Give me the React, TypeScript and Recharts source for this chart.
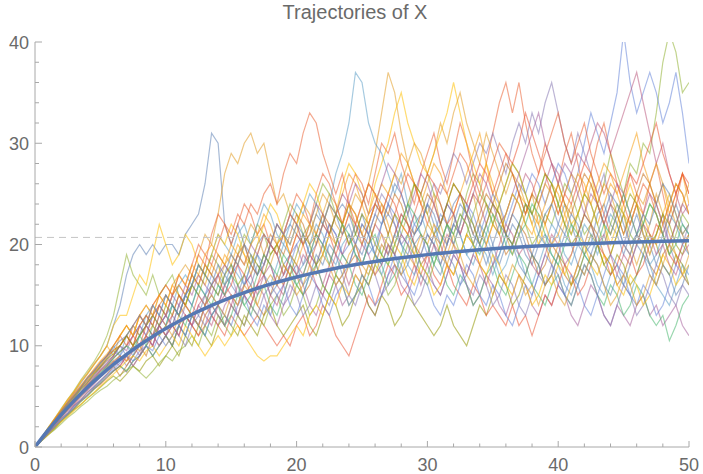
import React from "react";
import {
  LineChart,
  Line,
  XAxis,
  YAxis,
  ReferenceLine,
} from "recharts";

// sample times shared by every trajectory
const times = [
  0, 0.5, 1, 1.5, 2, 2.5, 3, 3.5, 4, 4.5,
  5, 5.5, 6, 6.5, 7, 7.5, 8, 8.5, 9, 9.5,
  10, 10.5, 11, 11.5, 12, 12.5, 13, 13.5, 14, 14.5,
  15, 15.5, 16, 16.5, 17, 17.5, 18, 18.5, 19, 19.5,
  20, 20.5, 21, 21.5, 22, 22.5, 23, 23.5, 24, 24.5,
  25, 25.5, 26, 26.5, 27, 27.5, 28, 28.5, 29, 29.5,
  30, 30.5, 31, 31.5, 32, 32.5, 33, 33.5, 34, 34.5,
  35, 35.5, 36, 36.5, 37, 37.5, 38, 38.5, 39, 39.5,
  40, 40.5, 41, 41.5, 42, 42.5, 43, 43.5, 44, 44.5,
  45, 45.5, 46, 46.5, 47, 47.5, 48, 48.5, 49, 49.5,
  50,
];

const traj01 = [
  0, 0.9, 1.8, 2.7, 3.6, 4.5, 5.4, 6.3, 7.2, 8.1,
  9, 10, 12, 14, 17, 19, 20, 19, 20, 19,
  20, 20, 19, 21, 22, 23, 26, 31, 30, 22,
  20, 22, 20, 18, 20, 21, 20, 19, 21, 22,
  21, 20, 21, 23, 22, 21, 23, 24, 23, 21,
  23, 21, 19, 22, 23, 22, 20, 19, 21, 22,
  24, 22, 20, 22, 24, 25, 24, 22, 20, 22,
  20, 18, 20, 22, 21, 19, 18, 20, 21, 20,
  22, 24, 22, 20, 19, 20, 23, 24, 22, 21,
  19, 21, 23, 21, 20, 18, 20, 22, 24, 22,
  21,
];
const traj02 = [
  0, 0.9, 1.8, 2.7, 3.5, 4.4, 5.1, 5.9, 6.8, 7.4,
  8.3, 9, 10, 11, 12, 11, 13, 14, 13, 15,
  16, 15, 17, 18, 17, 19, 21, 20, 23, 27,
  29, 28, 30, 31, 29, 30, 27, 24, 25, 23,
  22, 24, 23, 21, 23, 25, 24, 22, 20, 22,
  24, 26, 29, 33, 37, 35, 31, 28, 26, 24,
  23, 25, 22, 20, 23, 21, 23, 25, 22, 20,
  22, 24, 21, 19, 21, 23, 25, 22, 20, 18,
  20, 22, 24, 21, 23, 26, 24, 22, 19, 21,
  23, 20, 18, 20, 22, 25, 23, 21, 19, 17,
  19,
];
const traj03 = [
  0, 0.9, 1.9, 2.8, 3.8, 4.7, 5.6, 6.6, 7.5, 8.4,
  9.5, 11, 13, 16, 19, 17, 16, 15, 17, 15,
  16, 17, 15, 14, 16, 18, 17, 19, 18, 16,
  17, 19, 21, 20, 22, 21, 19, 20, 22, 24,
  23, 21, 22, 24, 26, 25, 23, 22, 24, 21,
  20, 22, 24, 23, 21, 19, 21, 23, 26, 25,
  27, 25, 24, 22, 20, 22, 25, 27, 26, 24,
  22, 21, 23, 25, 24, 22, 20, 21, 23, 22,
  24, 26, 25, 23, 21, 22, 24, 26, 29, 27,
  25, 28, 27, 30, 29, 33, 38, 41, 39, 35,
  36,
];
const traj04 = [
  0, 0.8, 1.6, 2.5, 3.1, 3.9, 4.8, 5.4, 6.3, 7.0,
  7.8, 8.5, 9, 10, 11, 10, 12, 13, 12, 14,
  13, 15, 16, 15, 17, 19, 18, 21, 23, 22,
  20, 22, 24, 23, 21, 22, 20, 19, 21, 23,
  25, 24, 22, 25, 27, 26, 24, 22, 25, 27,
  26, 24, 27, 30, 29, 31, 28, 26, 24, 27,
  29, 31, 28, 26, 29, 32, 30, 27, 25, 28,
  31, 34, 36, 33, 36, 32, 29, 27, 30, 28,
  26, 29, 31, 28, 25, 27, 30, 32, 29, 26,
  24, 27, 25, 23, 26, 28, 25, 22, 24, 27,
  25,
];
const traj05 = [
  0, 0.7, 1.5, 2.2, 3.0, 3.6, 4.3, 5.1, 5.6, 6.4,
  7.1, 7.6, 8.4, 9, 8, 9, 10, 11, 10, 12,
  11, 13, 12, 14, 13, 12, 14, 15, 14, 16,
  17, 15, 16, 18, 17, 19, 18, 16, 17, 19,
  20, 18, 19, 21, 20, 22, 21, 19, 18, 20,
  22, 21, 23, 25, 24, 22, 20, 21, 23, 22,
  24, 26, 25, 27, 29, 28, 26, 28, 30, 29,
  31, 29, 27, 30, 32, 30, 33, 31, 34, 36,
  33, 30, 28, 31, 29, 27, 25, 27, 24, 22,
  20, 22, 24, 21, 19, 21, 23, 20, 18, 20,
  22,
];
const traj06 = [
  0, 0.7, 1.4, 2.0, 2.8, 3.3, 4.1, 4.6, 5.4, 5.9,
  6.5, 7.2, 8, 7, 8, 9, 10, 9, 11, 12,
  11, 10, 12, 13, 12, 11, 13, 14, 13, 12,
  14, 13, 15, 16, 14, 13, 15, 17, 16, 18,
  17, 15, 16, 18, 20, 19, 17, 16, 18, 19,
  17, 16, 18, 20, 19, 21, 23, 22, 20, 18,
  19, 21, 20, 18, 17, 19, 21, 20, 22, 24,
  23, 21, 19, 20, 22, 21, 19, 17, 18, 20,
  19, 17, 16, 18, 20, 22, 21, 19, 18, 16,
  17, 19, 21, 20, 18, 17, 19, 20, 22, 21,
  19,
];
const traj07 = [
  0, 0.9, 1.7, 2.6, 3.4, 4.3, 5.0, 5.8, 6.7, 7.5,
  8.2, 9, 10, 9, 11, 12, 11, 13, 14, 13,
  15, 14, 16, 17, 16, 18, 17, 19, 21, 20,
  19, 21, 22, 20, 22, 24, 23, 21, 20, 22,
  24, 23, 25, 24, 22, 24, 27, 29, 32, 37,
  36, 32, 30, 29, 27, 25, 27, 24, 22, 23,
  21, 20, 22, 24, 23, 21, 19, 20, 22, 21,
  19, 17, 18, 20, 19, 17, 16, 18, 20, 19,
  18, 16, 15, 17, 19, 18, 16, 15, 17, 18,
  16, 15, 17, 19, 18, 16, 15, 14, 16, 18,
  17,
];
const traj08 = [
  0, 0.9, 1.9, 2.8, 3.7, 4.6, 5.5, 6.4, 7.2, 8.1,
  9, 10, 12, 13, 13, 15, 17, 16, 19, 22,
  20, 18, 19, 21, 20, 18, 17, 19, 21, 20,
  22, 21, 19, 18, 20, 22, 24, 23, 21, 20,
  22, 24, 26, 25, 23, 21, 23, 26, 28, 27,
  25, 23, 26, 28, 30, 33, 35, 32, 30, 28,
  27, 29, 31, 33, 36, 33, 30, 28, 26, 28,
  25, 23, 21, 23, 25, 24, 22, 20, 22, 24,
  26, 24, 22, 23, 25, 27, 24, 22, 20, 22,
  24, 26, 24, 21, 19, 21, 23, 25, 23, 21,
  22,
];
const traj09 = [
  0, 0.6, 1.3, 2.0, 2.6, 3.3, 3.9, 4.6, 5.1, 5.8,
  6.3, 7, 7.5, 8, 7.4, 8.5, 9, 10, 9, 10,
  11, 10, 12, 11, 13, 12, 14, 13, 12, 14,
  15, 13, 12, 14, 16, 15, 13, 12, 14, 15,
  17, 16, 14, 13, 15, 17, 16, 14, 15, 17,
  16, 14, 13, 15, 17, 18, 16, 15, 17, 19,
  18, 16, 15, 17, 19, 18, 16, 14, 15, 17,
  16, 14, 13, 15, 17, 16, 14, 13, 15, 14,
  16, 15, 13, 12, 14, 16, 15, 13, 12, 14,
  13, 12, 14, 15, 13, 14, 12, 13, 14, 12,
  11,
];
const traj10 = [
  0, 0.6, 1.2, 1.8, 2.5, 3.1, 3.7, 4.2, 4.8, 5.3,
  5.9, 6.5, 7, 6.5, 7.2, 8, 7.5, 8.5, 9, 8,
  9, 10, 9, 11, 10, 12, 11, 10, 12, 13,
  12, 11, 13, 12, 11, 13, 14, 12, 11, 12,
  13, 14, 12, 11, 13, 15, 14, 12, 13, 15,
  16, 14, 13, 15, 14, 12, 13, 15, 14, 13,
  12, 11, 12, 14, 12, 11, 10, 12, 14, 13,
  15, 17, 16, 14, 15, 17, 19, 18, 16, 17,
  19, 18, 16, 17, 19, 21, 20, 18, 17, 19,
  18, 16, 17, 19, 21, 20, 18, 17, 19, 18,
  16,
];
const traj11 = [
  0, 0.7, 1.3, 1.9, 2.6, 3.2, 3.8, 4.5, 5.1, 5.7,
  6.2, 6.8, 7.5, 8, 9, 8, 9, 10, 11, 10,
  11, 12, 11, 13, 12, 11, 12, 13, 12, 11,
  13, 12, 11, 12, 13, 12, 11, 10, 11, 10,
  12, 13, 11, 12, 14, 13, 11, 10, 9, 11,
  13, 15, 14, 16, 18, 17, 15, 16, 18, 17,
  19, 17, 16, 18, 16, 15, 14, 16, 15, 13,
  14, 13, 12, 14, 12, 13, 11, 13, 15, 14,
  16, 18, 17, 15, 16, 18, 20, 19, 17, 18,
  20, 19, 17, 18, 20, 22, 21, 19, 18, 20,
  21,
];
const traj12 = [
  0, 0.8, 1.7, 2.5, 3.3, 4.0, 4.9, 5.6, 6.4, 7.1,
  7.9, 8.6, 9.5, 9, 10, 11, 12, 11, 13, 12,
  13, 14, 13, 15, 14, 16, 15, 17, 16, 15,
  17, 18, 16, 17, 19, 18, 20, 19, 17, 18,
  20, 21, 19, 18, 20, 22, 21, 19, 20, 22,
  21, 19, 20, 22, 24, 23, 21, 20, 22, 21,
  19, 21, 23, 22, 20, 22, 24, 23, 21, 23,
  25, 24, 22, 24, 26, 25, 27, 26, 24, 26,
  28, 27, 25, 27, 30, 33, 31, 29, 32, 35,
  41, 36, 33, 35, 37, 35, 32, 34, 37, 33,
  28,
];
const traj13 = [
  0, 0.9, 1.9, 2.8, 3.7, 4.7, 5.5, 6.5, 7.3, 8.2,
  9, 10, 9, 11, 12, 11, 13, 12, 14, 15,
  14, 16, 15, 14, 16, 17, 16, 18, 17, 19,
  18, 20, 19, 17, 19, 21, 20, 22, 21, 19,
  21, 23, 22, 20, 22, 24, 23, 25, 27, 26,
  24, 22, 24, 26, 25, 27, 29, 28, 26, 24,
  26, 28, 27, 25, 23, 25, 27, 29, 31, 28,
  26, 24, 26, 28, 27, 25, 23, 22, 24, 26,
  25, 23, 21, 23, 25, 24, 22, 24, 26, 25,
  27, 29, 31, 28, 26, 24, 26, 23, 25, 27,
  24,
];
const traj14 = [
  0, 0.7, 1.5, 2.3, 3.0, 3.8, 4.4, 5.2, 5.8, 6.6,
  7.2, 7.9, 8.5, 8, 9, 10, 9, 11, 10, 12,
  11, 12, 14, 13, 12, 14, 15, 13, 14, 16,
  15, 14, 16, 17, 15, 17, 18, 16, 15, 17,
  18, 17, 19, 18, 16, 18, 20, 19, 21, 20,
  18, 20, 22, 21, 19, 21, 23, 22, 20, 19,
  21, 20, 18, 20, 22, 21, 23, 25, 24, 22,
  24, 23, 21, 23, 25, 27, 26, 24, 26, 28,
  27, 25, 27, 29, 28, 30, 32, 31, 29, 31,
  33, 35, 37, 34, 31, 28, 30, 27, 25, 23,
  24,
];
const traj15 = [
  0, 0.6, 1.3, 1.9, 2.6, 3.2, 3.8, 4.5, 5.0, 5.7,
  6.3, 6.9, 7.5, 8, 7.5, 8.5, 9, 10, 9, 10,
  11, 10, 12, 11, 13, 12, 11, 13, 14, 12,
  13, 15, 14, 13, 15, 16, 14, 13, 15, 17,
  16, 15, 17, 18, 16, 15, 17, 19, 18, 16,
  15, 17, 19, 18, 16, 17, 19, 21, 20, 18,
  17, 19, 18, 16, 15, 17, 16, 14, 15, 17,
  18, 16, 15, 17, 19, 18, 16, 15, 14, 16,
  17, 15, 14, 16, 18, 17, 15, 14, 16, 15,
  13, 14, 16, 15, 13, 12, 13, 10.5, 12, 14,
  15,
];
const traj16 = [
  0, 0.8, 1.6, 2.4, 3.2, 3.9, 4.7, 5.4, 6.1, 6.8,
  7.6, 8.3, 9, 10, 9, 10, 11, 12, 11, 12,
  13, 12, 14, 15, 14, 13, 15, 16, 15, 17,
  16, 15, 17, 16, 18, 17, 15, 16, 18, 19,
  18, 16, 17, 19, 18, 20, 19, 17, 18, 20,
  22, 21, 19, 18, 20, 19, 17, 18, 20, 21,
  20, 18, 17, 19, 18, 16, 17, 19, 21, 20,
  18, 19, 21, 20, 18, 17, 19, 18, 16, 17,
  19, 21, 20, 18, 17, 19, 18, 16, 15, 17,
  16, 18, 20, 19, 17, 16, 18, 17, 15, 16,
  18,
];
const traj17 = [
  0, 0.9, 1.8, 2.6, 3.5, 4.2, 5.1, 5.9, 6.6, 7.4,
  8.1, 9, 9.5, 10, 11, 12, 11, 12, 13, 14,
  13, 15, 16, 15, 17, 16, 18, 17, 16, 18,
  19, 18, 20, 22, 21, 19, 18, 20, 21, 23,
  22, 20, 21, 23, 25, 24, 22, 21, 23, 25,
  24, 26, 25, 23, 25, 27, 26, 28, 30, 29,
  27, 29, 32, 30, 33, 35, 32, 30, 28, 31,
  29, 27, 25, 27, 26, 24, 22, 24, 26, 25,
  23, 25, 27, 26, 24, 22, 24, 26, 25, 23,
  21, 23, 25, 24, 26, 28, 26, 24, 22, 24,
  26,
];
const traj18 = [
  0, 0.6, 1.2, 1.7, 2.3, 2.9, 3.4, 4.0, 4.5, 5.1,
  5.6, 6.0, 6.6, 7.1, 7.6, 8.0, 7.4, 6.8, 7.5, 8.3,
  9, 8.5, 9.5, 10, 11, 10, 12, 11, 13, 12,
  11, 13, 12, 14, 13, 12, 14, 15, 13, 14,
  16, 15, 13, 14, 16, 15, 17, 16, 14, 15,
  17, 16, 18, 17, 15, 16, 18, 20, 19, 17,
  16, 18, 20, 22, 21, 19, 21, 23, 25, 24,
  22, 24, 26, 28, 27, 25, 23, 25, 27, 26,
  24, 22, 21, 23, 25, 24, 22, 20, 22, 24,
  23, 21, 20, 22, 24, 23, 21, 19, 21, 23,
  22,
];
const traj19 = [
  0, 0.9, 1.8, 2.7, 3.6, 4.4, 5.3, 6.0, 6.9, 7.6,
  8.4, 9, 10, 11, 10, 12, 13, 12, 14, 15,
  16, 15, 17, 16, 18, 20, 19, 18, 20, 22,
  21, 23, 22, 24, 23, 25, 26, 24, 27, 29,
  28, 31, 33, 32, 29, 27, 25, 27, 24, 22,
  24, 26, 25, 23, 21, 23, 25, 27, 26, 24,
  22, 24, 26, 25, 27, 29, 28, 26, 24, 26,
  28, 30, 29, 27, 25, 23, 25, 27, 29, 31,
  33, 30, 28, 30, 32, 29, 27, 25, 27, 26,
  24, 22, 24, 26, 25, 23, 21, 23, 25, 27,
  25,
];
const traj20 = [
  0, 0.7, 1.4, 2.1, 2.8, 3.4, 4.1, 4.7, 5.4, 6.0,
  6.6, 7.2, 7.8, 8.5, 9, 8, 9, 10, 11, 10,
  11, 12, 11, 10, 12, 13, 12, 14, 13, 12,
  14, 13, 15, 14, 13, 15, 16, 15, 14, 16,
  15, 13, 14, 16, 15, 14, 16, 17, 15, 14,
  16, 18, 17, 15, 16, 18, 17, 16, 14, 15,
  17, 16, 15, 17, 19, 18, 16, 15, 17, 16,
  14, 15, 17, 16, 14, 13, 15, 17, 16, 18,
  17, 15, 14, 16, 18, 17, 15, 13, 12, 14,
  16, 15, 13, 14, 16, 18, 17, 15, 14, 16,
  15,
];
const traj21 = [
  0, 0.8, 1.7, 2.5, 3.4, 4.2, 5.0, 5.8, 6.5, 7.3,
  8, 8.8, 9.6, 10, 11, 10, 12, 13, 12, 14,
  15, 14, 13, 15, 17, 16, 18, 17, 19, 18,
  17, 19, 20, 18, 17, 19, 21, 20, 19, 21,
  23, 22, 20, 21, 23, 22, 20, 22, 24, 23,
  21, 20, 22, 24, 23, 25, 24, 22, 21, 23,
  25, 24, 22, 24, 26, 25, 23, 21, 23, 25,
  24, 26, 28, 27, 25, 23, 25, 24, 22, 24,
  26, 24, 23, 25, 27, 26, 24, 22, 24, 23,
  21, 23, 25, 27, 26, 24, 22, 24, 26, 25,
  23,
];
const traj22 = [
  0, 0.8, 1.5, 2.3, 3.1, 3.8, 4.5, 5.3, 6.0, 6.6,
  7.4, 8, 8.7, 9.5, 10, 9, 11, 12, 11, 13,
  12, 14, 13, 15, 16, 15, 14, 16, 17, 16,
  18, 17, 16, 18, 19, 17, 16, 18, 20, 19,
  17, 18, 20, 22, 21, 19, 18, 20, 21, 19,
  18, 20, 19, 17, 19, 21, 20, 18, 17, 19,
  21, 20, 18, 20, 22, 21, 19, 18, 20, 19,
  17, 19, 21, 20, 22, 24, 23, 21, 20, 22,
  21, 19, 18, 20, 22, 21, 19, 21, 23, 22,
  20, 19, 21, 20, 18, 19, 21, 23, 22, 20,
  19,
];
const traj23 = [
  0, 0.6, 1.2, 1.9, 2.5, 3.0, 3.6, 4.2, 4.8, 5.4,
  6.0, 6.6, 7.2, 7.8, 8.5, 9, 8.5, 9.5, 10, 9,
  10, 11, 10, 12, 11, 10, 9, 10, 11, 10,
  11, 12, 11, 10, 9, 8.5, 9, 9, 10, 11,
  12, 11, 13, 14, 13, 15, 14, 16, 15, 17,
  16, 18, 17, 19, 18, 20, 19, 17, 16, 18,
  17, 15, 16, 18, 17, 19, 21, 20, 18, 17,
  19, 18, 16, 15, 17, 16, 14, 15, 17, 16,
  18, 17, 19, 21, 20, 18, 17, 19, 18, 16,
  15, 17, 16, 14, 15, 17, 19, 18, 16, 17,
  18,
];
const traj24 = [
  0, 0.8, 1.6, 2.4, 3.1, 3.9, 4.7, 5.3, 6.1, 6.9,
  7.6, 8.2, 9, 10, 9.5, 11, 12, 11, 13, 14,
  13, 15, 14, 16, 15, 17, 16, 15, 17, 18,
  17, 19, 18, 20, 19, 21, 20, 22, 21, 23,
  22, 20, 22, 24, 23, 21, 23, 25, 24, 26,
  25, 23, 24, 26, 28, 27, 25, 23, 25, 27,
  26, 24, 22, 24, 23, 21, 23, 25, 27, 26,
  24, 22, 23, 25, 27, 29, 31, 33, 30, 28,
  26, 28, 27, 25, 23, 25, 24, 22, 24, 26,
  25, 23, 21, 23, 25, 24, 22, 20, 22, 24,
  23,
];
const traj25 = [
  0, 0.8, 1.7, 2.4, 3.3, 4.1, 4.8, 5.7, 6.3, 7.2,
  7.9, 8.7, 9.2, 10, 11, 10, 11, 12, 13, 12,
  14, 13, 15, 14, 16, 15, 17, 16, 15, 17,
  18, 16, 17, 19, 18, 17, 19, 20, 18, 17,
  19, 21, 20, 18, 19, 21, 23, 22, 20, 21,
  23, 22, 20, 19, 21, 23, 22, 24, 26, 25,
  23, 21, 22, 24, 26, 25, 23, 22, 20, 22,
  24, 23, 21, 20, 22, 24, 23, 25, 27, 26,
  24, 22, 20, 21, 23, 22, 20, 18, 19, 21,
  23, 25, 24, 22, 20, 21, 23, 22, 20, 19,
  21,
];
const traj26 = [
  0, 0.7, 1.6, 2.3, 3.2, 3.8, 4.7, 5.3, 6.1, 6.7,
  7.5, 8.1, 8.8, 9.4, 10, 11, 10, 12, 11, 13,
  12, 13, 15, 14, 13, 15, 14, 16, 17, 15,
  16, 18, 17, 15, 16, 18, 20, 19, 17, 19,
  21, 20, 18, 20, 22, 21, 19, 21, 23, 22,
  20, 22, 24, 23, 25, 24, 22, 21, 23, 25,
  27, 26, 24, 22, 23, 25, 24, 26, 28, 27,
  25, 27, 29, 28, 30, 33, 31, 29, 27, 25,
  23, 25, 24, 26, 28, 27, 25, 23, 21, 23,
  25, 27, 26, 28, 30, 32, 29, 27, 25, 27,
  26,
];
const traj27 = [
  0, 0.6, 1.3, 2.0, 2.7, 3.3, 4.0, 4.6, 5.2, 5.9,
  6.5, 7.1, 7.6, 8.3, 9, 8.5, 9.5, 10, 9.5, 11,
  10, 11, 12, 11, 13, 12, 11, 13, 14, 13,
  12, 14, 15, 13, 12, 14, 13, 15, 16, 14,
  13, 15, 17, 16, 14, 13, 15, 16, 14, 15,
  17, 16, 14, 15, 17, 19, 18, 16, 15, 17,
  16, 14, 13, 15, 14, 16, 18, 17, 15, 14,
  16, 15, 13, 12, 14, 16, 15, 17, 19, 18,
  16, 15, 17, 16, 14, 13, 15, 17, 19, 18,
  17, 15, 14, 16, 15, 13, 14, 16, 18, 17,
  16,
];
const traj28 = [
  0, 0.9, 1.7, 2.6, 3.5, 4.3, 5.2, 6.1, 6.8, 7.7,
  8.5, 9.2, 10, 11, 12, 11, 13, 14, 13, 15,
  14, 16, 17, 16, 18, 17, 19, 20, 19, 18,
  20, 19, 18, 20, 21, 23, 22, 20, 21, 19,
  18, 20, 22, 21, 19, 21, 20, 22, 24, 23,
  21, 23, 25, 24, 22, 20, 22, 21, 19, 21,
  20, 22, 21, 19, 21, 23, 22, 20, 18, 20,
  22, 21, 23, 25, 24, 22, 21, 23, 22, 20,
  21, 23, 25, 27, 26, 24, 26, 28, 27, 25,
  23, 22, 24, 23, 21, 20, 22, 24, 26, 25,
  23,
];
const traj29 = [
  0, 0.7, 1.4, 2.2, 2.9, 3.6, 4.2, 4.9, 5.6, 6.2,
  6.9, 7.5, 8.2, 9, 8.5, 9.5, 10, 11, 10, 12,
  13, 12, 11, 13, 12, 14, 13, 12, 14, 15,
  14, 16, 15, 14, 16, 17, 15, 14, 16, 18,
  17, 19, 18, 16, 15, 17, 19, 18, 16, 18,
  20, 19, 17, 18, 20, 19, 21, 20, 18, 16,
  18, 20, 19, 21, 20, 18, 17, 19, 18, 16,
  18, 20, 22, 21, 19, 20, 18, 17, 19, 21,
  20, 18, 19, 21, 23, 22, 20, 21, 19, 17,
  19, 18, 20, 22, 21, 19, 20, 18, 17, 19,
  20,
];
const traj30 = [
  0, 0.8, 1.5, 2.3, 3.0, 3.8, 4.6, 5.2, 6.0, 6.7,
  7.3, 8, 8.8, 9.4, 10, 9.5, 11, 10, 12, 11,
  12, 14, 13, 12, 14, 16, 15, 14, 16, 15,
  17, 16, 14, 15, 17, 19, 18, 17, 19, 18,
  16, 17, 19, 21, 20, 18, 20, 22, 21, 19,
  18, 20, 21, 19, 18, 20, 22, 24, 23, 21,
  20, 18, 20, 22, 21, 23, 22, 20, 19, 21,
  23, 22, 20, 19, 21, 22, 24, 23, 21, 19,
  18, 20, 22, 21, 19, 18, 20, 22, 21, 23,
  25, 23, 21, 22, 24, 23, 21, 19, 20, 22,
  21,
];
const traj31 = [
  0, 0.9, 1.8, 2.6, 3.5, 4.3, 5.1, 5.9, 6.8, 7.5,
  8.3, 9, 9.8, 10.5, 11, 12, 13, 12, 14, 13,
  15, 14, 13, 15, 16, 18, 17, 16, 18, 17,
  19, 18, 20, 19, 17, 18, 20, 22, 21, 20,
  22, 21, 19, 20, 22, 24, 23, 21, 22, 20,
  19, 21, 23, 22, 24, 26, 25, 23, 21, 22,
  24, 23, 21, 20, 22, 24, 23, 21, 20, 18,
  20, 22, 21, 23, 22, 20, 19, 21, 23, 24,
  22, 21, 23, 22, 20, 19, 21, 23, 25, 24,
  22, 20, 21, 23, 22, 24, 26, 25, 23, 21,
  22,
];
const traj32 = [
  0, 0.7, 1.5, 2.2, 3.0, 3.7, 4.4, 5.0, 5.8, 6.5,
  7.1, 7.8, 8.5, 9, 8.5, 10, 9.5, 11, 12, 11,
  12, 11, 13, 14, 13, 12, 14, 15, 14, 13,
  15, 14, 16, 15, 14, 16, 17, 16, 18, 17,
  15, 16, 18, 17, 19, 18, 16, 17, 19, 20,
  18, 17, 19, 21, 20, 18, 17, 19, 18, 20,
  22, 21, 19, 18, 20, 19, 17, 16, 18, 17,
  15, 17, 16, 18, 17, 15, 16, 14, 16, 17,
  15, 14, 16, 18, 17, 19, 18, 16, 14, 15,
  17, 16, 14, 15, 17, 16, 18, 20, 19, 17,
  16,
];

const trajectories = [
  traj01, traj02, traj03, traj04, traj05, traj06, traj07, traj08,
  traj09, traj10, traj11, traj12, traj13, traj14, traj15, traj16,
  traj17, traj18, traj19, traj20, traj21, traj22, traj23, traj24,
  traj25, traj26, traj27, traj28, traj29, traj30, traj31, traj32,
];

const trajColors = [
  "#5E81B5", "#E19C24", "#8FB032", "#EB6235", "#8778B3", "#C56E1A",
  "#5D9EC7", "#FFBF00", "#A5609D", "#929600", "#E95536", "#6685D9",
  "#F89F13", "#BC5B80", "#47B66D", "#5E81B5", "#E19C24", "#8FB032",
  "#EB6235", "#8778B3", "#C56E1A", "#5D9EC7", "#FFBF00", "#A5609D",
  "#929600", "#E95536", "#6685D9", "#F89F13", "#BC5B80", "#47B66D",
  "#5E81B5", "#E19C24",
];

// mean curve
const meanTimes = [
  0, 1, 2, 3, 4, 5, 6, 7, 8, 9, 10, 11, 12, 13, 14, 15, 16, 17, 18, 19,
  20, 21, 22, 23, 24, 25, 26, 27, 28, 29, 30, 32, 34, 36, 38, 40, 42, 44,
  46, 48, 50,
];
const meanValues = [
  0, 1.66, 3.18, 4.58, 5.87, 7.05, 8.15, 9.15, 10.07, 10.92, 11.7, 12.42,
  13.09, 13.69, 14.25, 14.77, 15.24, 15.68, 16.08, 16.45, 16.79, 17.1,
  17.39, 17.66, 17.9, 18.12, 18.33, 18.52, 18.69, 18.85, 19.0, 19.26,
  19.48, 19.67, 19.83, 19.96, 20.08, 20.17, 20.25, 20.32, 20.38,
];

const longRunLevel = 20.7;

const xTicks = [0, 2, 4, 6, 8, 10, 12, 14, 16, 18, 20, 22, 24, 26, 28, 30, 32, 34, 36, 38, 40, 42, 44, 46, 48, 50];
const yTicks = [0, 2, 4, 6, 8, 10, 12, 14, 16, 18, 20, 22, 24, 26, 28, 30, 32, 34, 36, 38, 40];

const AXIS_COLOR = "#a8a8a8";
const LABEL_COLOR = "#6a6a6a";
const FONT = "'Liberation Sans', Arial, sans-serif";

const XTick = (props: any) => {
  const { x, y, payload } = props;
  const major = payload.value % 10 === 0;
  return (
    <g>
      <line x1={x} x2={x} y1={y} y2={y - (major ? 6 : 3.5)} stroke={AXIS_COLOR} />
      {major && (
        <text x={x} y={y + 24} textAnchor="middle" fill={LABEL_COLOR} fontSize={18} fontFamily={FONT}>
          {payload.value}
        </text>
      )}
    </g>
  );
};

const YTick = (props: any) => {
  const { x, y, payload } = props;
  const major = payload.value % 10 === 0;
  return (
    <g>
      <line x1={x} x2={x + (major ? 7 : 4)} y1={y} y2={y} stroke={AXIS_COLOR} />
      {major && (
        <text x={x - 6} y={y + 6.5} textAnchor="end" fill={LABEL_COLOR} fontSize={18} fontFamily={FONT}>
          {payload.value}
        </text>
      )}
    </g>
  );
};

const App = () => {
  const trajData = trajectories.map((vals) =>
    times.map((t, i) => ({ t, v: vals[i] }))
  );
  const meanData = meanTimes.map((t, i) => ({ t, v: meanValues[i] }));

  return (
    <div style={{ position: "absolute", left: 0, top: 0, width: 703, height: 474, background: "#fff" }}>
      <div
        style={{
          position: "absolute",
          left: 0,
          width: 710,
          top: 0,
          textAlign: "center",
          fontFamily: FONT,
          fontSize: 20,
          lineHeight: "24px",
          color: LABEL_COLOR,
        }}
      >
        Trajectories of X
      </div>
      <LineChart width={703} height={474} margin={{ top: 42, right: 14, bottom: 0, left: 0 }}>
        <XAxis
          dataKey="t"
          type="number"
          domain={[0, 50]}
          ticks={xTicks}
          interval={0}
          allowDataOverflow
          height={27}
          stroke={AXIS_COLOR}
          tickLine={false}
          tickSize={0}
          tickMargin={0}
          tick={XTick}
        />
        <YAxis
          type="number"
          domain={[0, 40]}
          ticks={yTicks}
          interval={0}
          allowDataOverflow
          width={35}
          stroke={AXIS_COLOR}
          tickLine={false}
          tickSize={0}
          tickMargin={0}
          tick={YTick}
        />
        {trajData.map((d, k) => (
          <Line
            key={k}
            data={d}
            dataKey="v"
            type="linear"
            stroke={trajColors[k]}
            strokeOpacity={0.55}
            strokeWidth={1.2}
            dot={false}
            activeDot={false}
            isAnimationActive={false}
          />
        ))}
        <ReferenceLine y={longRunLevel} stroke="#c4c4c4" strokeDasharray="7 5" />
        <Line
          data={meanData}
          dataKey="v"
          type="monotone"
          stroke="#5578b3"
          strokeWidth={3.5}
          dot={false}
          activeDot={false}
          isAnimationActive={false}
        />
      </LineChart>
    </div>
  );
};

export default App;
